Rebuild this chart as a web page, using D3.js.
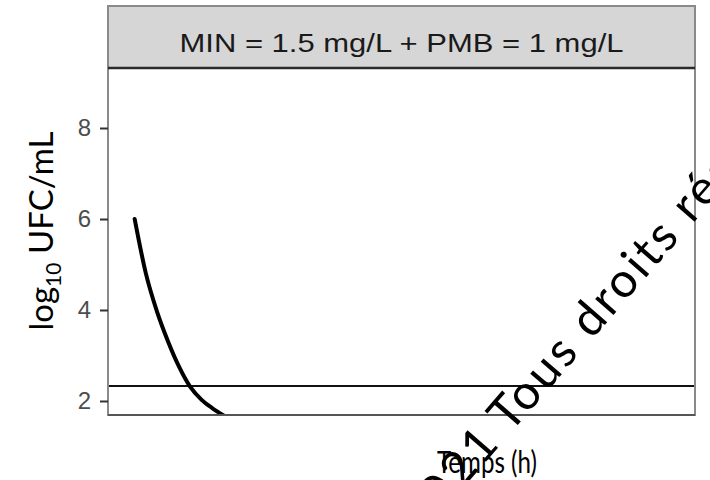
<!DOCTYPE html>
<html>
<head>
<meta charset="utf-8">
<script src="https://cdn.jsdelivr.net/npm/d3@7"></script>
<style>
  body { margin: 0; background: #fff; }
  svg { display: block; }
</style>
</head>
<body>
<svg id="chart"></svg>
<script>
// Data (time in h, log10 UFC/mL)
const hours = [0, 0.5, 1, 1.5, 2, 2.5, 3, 3.5, 4];
const logCfu = [6.0, 4.81, 3.97, 3.31, 2.75, 2.31, 2.03, 1.84, 1.68];
const yTicks = [2, 4, 6, 8];
const loqValue = 2.33; // horizontal reference line
const stripLabel = "MIN = 1.5 mg/L + PMB = 1 mg/L";

const width = 710;
const height = 480;

const svg = d3.select("#chart").attr("width", width).attr("height", height);

// panel box
const panel = { left: 108, right: 695, stripTop: 6, top: 68, bottom: 415 };

const x = d3.scaleLinear().domain([-1.2, 25.2]).range([panel.left, panel.right]);
const y = d3.scaleLinear().domain([1.692, 9.319]).range([panel.bottom, panel.top]);

svg.append("rect").attr("width", width).attr("height", height).attr("fill", "#fff");

// clip for the curve
svg.append("clipPath").attr("id", "clip")
  .append("rect")
  .attr("x", panel.left).attr("y", panel.top)
  .attr("width", panel.right - panel.left).attr("height", panel.bottom - panel.top);

// strip
svg.append("rect")
  .attr("x", panel.left).attr("y", panel.stripTop)
  .attr("width", panel.right - panel.left).attr("height", panel.top - panel.stripTop)
  .attr("fill", "#d6d6d6");

svg.append("text")
  .attr("x", (panel.left + panel.right) / 2)
  .attr("y", 52)
  .attr("text-anchor", "middle")
  .attr("font-family", "Liberation Sans, Arial, sans-serif")
  .attr("font-size", 26)
  .attr("textLength", 444)
  .attr("lengthAdjust", "spacingAndGlyphs")
  .attr("fill", "#1a1a1a")
  .text(stripLabel);

// reference line
svg.append("line")
  .attr("x1", panel.left).attr("x2", panel.right)
  .attr("y1", y(loqValue)).attr("y2", y(loqValue))
  .attr("stroke", "#111").attr("stroke-width", 2);

// curve
const line = d3.line()
  .x((d, i) => x(hours[i]))
  .y((d) => y(d))
  .curve(d3.curveMonotoneX);

svg.append("path")
  .datum(logCfu)
  .attr("clip-path", "url(#clip)")
  .attr("fill", "none")
  .attr("stroke", "#000")
  .attr("stroke-width", 4)
  .attr("stroke-linecap", "round")
  .attr("d", line);

// panel border
svg.append("rect")
  .attr("x", panel.left).attr("y", panel.stripTop)
  .attr("width", panel.right - panel.left).attr("height", panel.bottom - panel.stripTop)
  .attr("fill", "none").attr("stroke", "#8a8a8a").attr("stroke-width", 2);

svg.append("line")
  .attr("x1", panel.left).attr("x2", panel.right)
  .attr("y1", panel.top).attr("y2", panel.top)
  .attr("stroke", "#2a2a2a").attr("stroke-width", 2.5);

svg.append("line")
  .attr("x1", panel.left).attr("x2", panel.right)
  .attr("y1", panel.bottom).attr("y2", panel.bottom)
  .attr("stroke", "#555").attr("stroke-width", 2);

// y axis
const yAxis = svg.append("g")
  .attr("transform", `translate(${panel.left},0)`)
  .call(d3.axisLeft(y).tickValues(yTicks).tickSize(8).tickPadding(9));
yAxis.select(".domain").remove();
yAxis.selectAll(".tick line").attr("stroke", "#333").attr("stroke-width", 2);
yAxis.selectAll(".tick text")
  .attr("font-family", "Liberation Sans, Arial, sans-serif")
  .attr("font-size", 24)
  .attr("fill", "#4d4d4d");

// y title
const yTitle = svg.append("text")
  .attr("transform", "translate(53,231) rotate(-90)")
  .attr("text-anchor", "middle")
  .attr("font-family", "Lato, Open Sans, sans-serif")
  .attr("font-size", 33)
  .attr("fill", "#000");
yTitle.append("tspan").text("log");
yTitle.append("tspan").attr("font-size", 21).attr("dy", 8).text("10");
yTitle.append("tspan").attr("dy", -8).text(" UFC/mL");

// x title
svg.append("text")
  .attr("x", 437).attr("y", 473)
  .attr("font-family", "Lato, Open Sans, sans-serif")
  .attr("font-size", 31)
  .attr("textLength", 100)
  .attr("lengthAdjust", "spacingAndGlyphs")
  .attr("fill", "#000")
  .text("Temps (h)");

// watermark across the lower right
const mark = svg.append("g")
  .attr("transform", "translate(510,434) rotate(-49)")
  .attr("font-family", "Lato, Open Sans, sans-serif")
  .attr("font-size", 48)
  .attr("letter-spacing", 3)
  .attr("fill", "#000");
mark.append("text").attr("x", 0).text("Tous droits réservés");
mark.append("text").attr("x", -12).attr("text-anchor", "end").text("©2021");
</script>
</body>
</html>
